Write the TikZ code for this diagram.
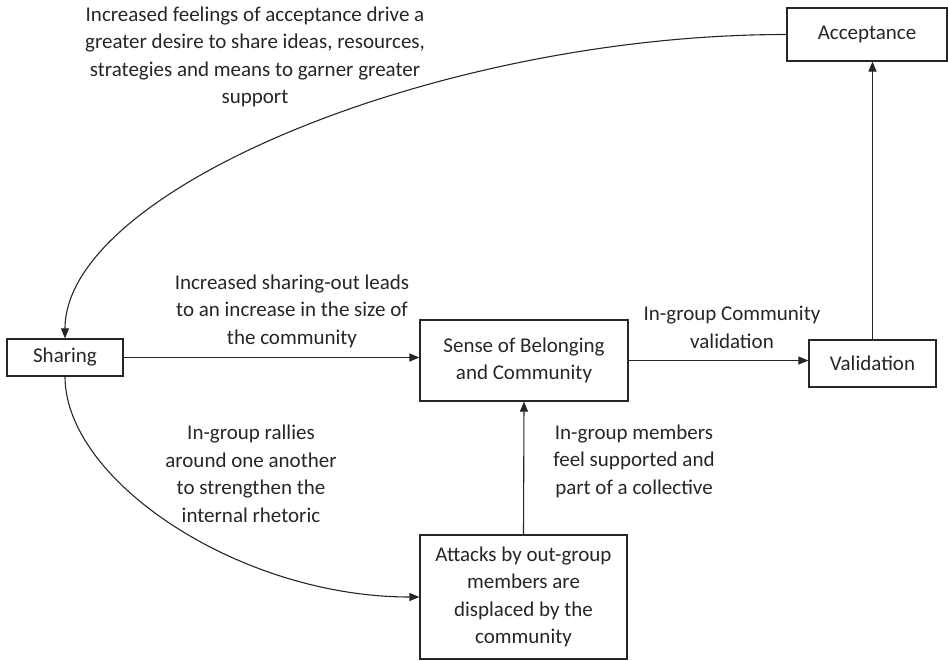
\documentclass[tikz,border=0pt]{standalone}
\usepackage{fontspec}
\setmainfont{Carlito}
\usepackage{xcolor}
\usetikzlibrary{positioning, arrows.meta}

\definecolor{ink}{RGB}{38,38,38}

\tikzset{
	box/.style={draw=ink, line width=1.2pt, text=ink, align=center, inner sep=0pt},
	note/.style={text=ink, align=center, inner sep=0pt},
	link/.style={draw=ink, line width=1.1pt, -{Triangle[length=10pt,width=8pt]}}
}

\begin{document}
\begin{tikzpicture}[x=1pt, y=-1pt, font=\fontsize{21}{27.5}\selectfont]
		\useasboundingbox (0,0) rectangle (948,661);
		
		\node[box, minimum width=116pt, minimum height=37pt] (share) at (65,357.5) {Sharing};
		\node[box, minimum width=208pt, minimum height=81pt] (belong) at (524,360.5) {Sense of Belonging\\and Community};
		\node[box, minimum width=127pt, minimum height=47pt] (valid) at (872.5,363.5) {Validation};
		\node[box, minimum width=160pt, minimum height=53pt] (accept) at (867,34.5) {Acceptance};
		\node[box, minimum width=207pt, minimum height=124pt] (attack) at (523.5,597) {Attacks by out-group\\members are\\displaced by the\\community};
		
		\node[note] (n1) at (255,57) {Increased feelings of acceptance drive a\\greater desire to share ideas, resources,\\strategies and means to garner greater\\support};
		\node[note] (n2) at (292,311) {Increased sharing-out leads\\to an increase in the size of\\the community};
		\node[note] (n3) at (732,327.5) {In-group Community\\validation};
		\node[note] (n4) at (251,474) {In-group rallies\\around one another\\to strengthen the\\internal rhetoric};
		\node[note] (n5) at (634,461) {In-group members\\feel supported and\\part of a collective};
		
		\draw[link] (share.east) -- (share.east -| belong.west);
		\draw[link] (belong.east) -- (belong.east -| valid.west);
		\draw[link] (valid.north) -- (valid.north |- accept.south);
		\draw[link] (attack.north) -- (belong.south);
		\draw[link] (accept.west) .. controls +(-347,0) and +(0,-149) .. (share.north);
		\draw[link] (share.south) .. controls +(0,104) and +(-180,0) .. (attack.west);
	\end{tikzpicture}
\end{document}
